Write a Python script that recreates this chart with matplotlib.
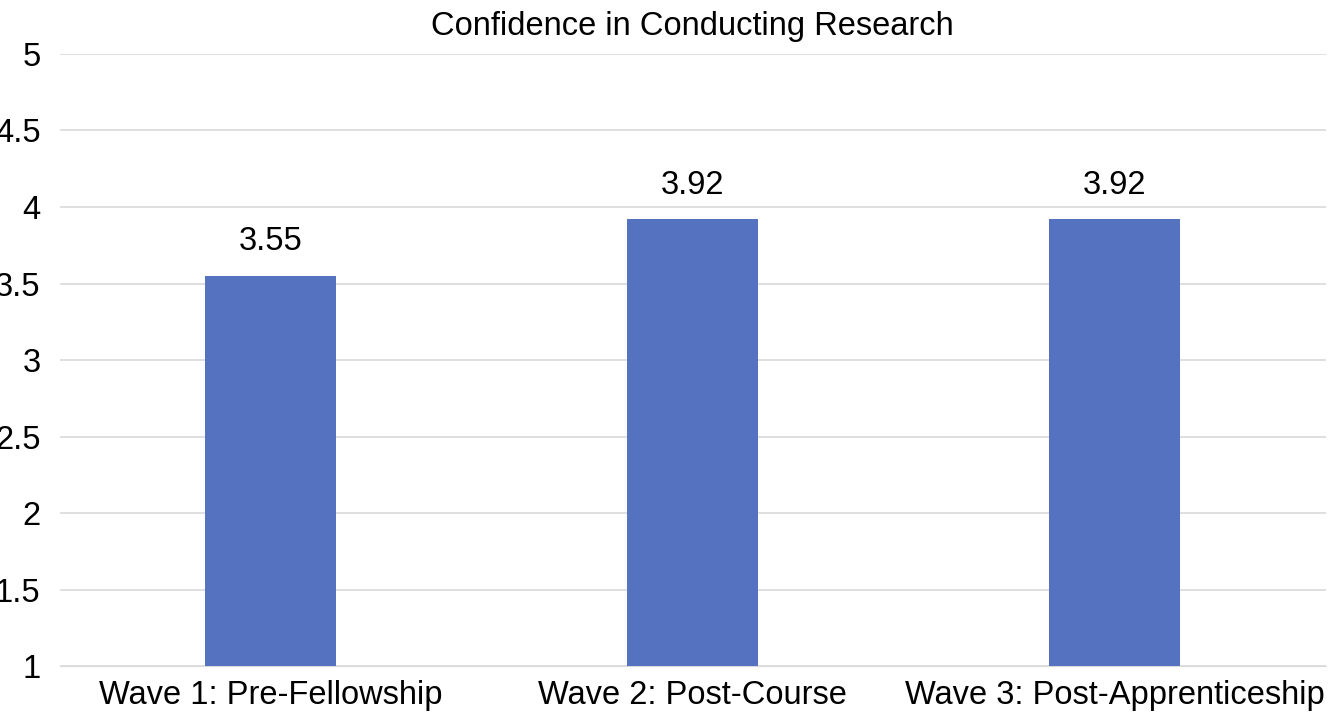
import matplotlib
matplotlib.use('Agg')
import matplotlib.pyplot as plt

categories = ['Wave 1: Pre-Fellowship', 'Wave 2: Post-Course', 'Wave 3: Post-Apprenticeship']
values = [3.55, 3.92, 3.92]
yticks = [1, 1.5, 2, 2.5, 3, 3.5, 4, 4.5, 5]

plt.rcParams['font.family'] = ['Liberation Sans', 'DejaVu Sans']
FS = 23.5

fig = plt.figure(figsize=(13.31, 7.16), dpi=100)
ax = fig.add_axes([0.045, 0.0698, 0.951, 0.8548])

x = list(range(len(categories)))
ax.bar(x, [v - 1 for v in values], bottom=1, width=0.31, color='#5572C0', zorder=3)
for xi, v in zip(x, values):
    ax.text(xi, v + 0.12, f'{v:.2f}', ha='center', va='bottom', fontsize=FS)

ax.set_xlim(-0.5, 2.5)
ax.set_ylim(1, 5)
ax.set_yticks(yticks)
ax.set_yticklabels([f'{t:g}' for t in yticks], fontsize=FS)
ax.set_xticks(x)
ax.set_xticklabels(categories, fontsize=FS)
ax.tick_params(axis='x', length=0, pad=10)
ax.tick_params(axis='y', length=0, pad=14)
ax.grid(axis='y', color='#d9d9d9', linewidth=1.2, zorder=0)
for s in ['top', 'right', 'left']:
    ax.spines[s].set_visible(False)
ax.spines['bottom'].set_color('#d9d9d9')
ax.set_title('Confidence in Conducting Research', fontsize=FS, pad=14)

fig.savefig('out.png', dpi=100)
